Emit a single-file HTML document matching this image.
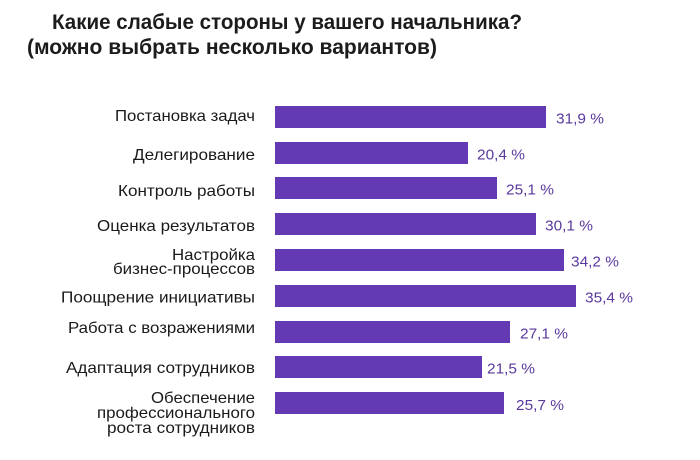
<!DOCTYPE html>
<html>
<head>
<meta charset="utf-8">
<style>
  html, body { margin: 0; padding: 0; background: #ffffff; }
  svg { display: block; }
  .t { font-family: "Liberation Sans", "Noto Sans CJK SC", sans-serif; font-weight: bold; font-size: 21px; fill: #1c1c1c; }
  .l { font-family: "Liberation Sans", "Noto Sans CJK SC", sans-serif; font-size: 16px; fill: #1a1a1a; }
  .v { font-family: "Liberation Sans", "Noto Sans CJK SC", sans-serif; font-size: 15px; fill: #5a3a9e; }
  .b { fill: #6339b4; }
</style>
</head>
<body>
<svg width="700" height="460" viewBox="0 0 700 460" xmlns="http://www.w3.org/2000/svg">
  <rect width="700" height="460" fill="#ffffff"/>
  <!-- Title -->
  <text class="t" x="52" y="29" textLength="470" lengthAdjust="spacingAndGlyphs">Какие слабые стороны у вашего начальника?</text>
  <text class="t" x="27" y="54" textLength="410" lengthAdjust="spacingAndGlyphs">(можно выбрать несколько вариантов)</text>

  <!-- Bars -->
  <rect class="b" x="275" y="106" width="271" height="22"/>
  <rect class="b" x="275" y="142" width="193" height="22"/>
  <rect class="b" x="275" y="177" width="222" height="22"/>
  <rect class="b" x="275" y="213" width="261" height="22"/>
  <rect class="b" x="275" y="249" width="289" height="22"/>
  <rect class="b" x="275" y="285" width="301" height="22"/>
  <rect class="b" x="275" y="321" width="235" height="22"/>
  <rect class="b" x="275" y="356" width="207" height="22"/>
  <rect class="b" x="275" y="392" width="229" height="22"/>

  <!-- Values -->
  <text class="v" x="556" y="123.5" textLength="48" lengthAdjust="spacingAndGlyphs">31,9 %</text>
  <text class="v" x="477" y="159.5" textLength="48" lengthAdjust="spacingAndGlyphs">20,4 %</text>
  <text class="v" x="506" y="194.5" textLength="48" lengthAdjust="spacingAndGlyphs">25,1 %</text>
  <text class="v" x="545" y="230.5" textLength="48" lengthAdjust="spacingAndGlyphs">30,1 %</text>
  <text class="v" x="571" y="266.5" textLength="48" lengthAdjust="spacingAndGlyphs">34,2 %</text>
  <text class="v" x="585" y="302.5" textLength="48" lengthAdjust="spacingAndGlyphs">35,4 %</text>
  <text class="v" x="520" y="338.3" textLength="48" lengthAdjust="spacingAndGlyphs">27,1 %</text>
  <text class="v" x="487" y="373.3" textLength="48" lengthAdjust="spacingAndGlyphs">21,5 %</text>
  <text class="v" x="516" y="410" textLength="48" lengthAdjust="spacingAndGlyphs">25,7 %</text>

  <!-- Category labels -->
  <text class="l" x="115" y="121" textLength="140" lengthAdjust="spacingAndGlyphs">Постановка задач</text>
  <text class="l" x="133" y="160" textLength="122" lengthAdjust="spacingAndGlyphs">Делегирование</text>
  <text class="l" x="118" y="196" textLength="137" lengthAdjust="spacingAndGlyphs">Контроль работы</text>
  <text class="l" x="97" y="231" textLength="158" lengthAdjust="spacingAndGlyphs">Оценка результатов</text>
  <text class="l" x="172" y="260" textLength="83" lengthAdjust="spacingAndGlyphs">Настройка</text>
  <text class="l" x="113" y="274" textLength="142" lengthAdjust="spacingAndGlyphs">бизнес-процессов</text>
  <text class="l" x="61" y="302.5" textLength="194" lengthAdjust="spacingAndGlyphs">Поощрение инициативы</text>
  <text class="l" x="68" y="333" textLength="187" lengthAdjust="spacingAndGlyphs">Работа с возражениями</text>
  <text class="l" x="66" y="373" textLength="189" lengthAdjust="spacingAndGlyphs">Адаптация сотрудников</text>
  <text class="l" x="151" y="403" textLength="104" lengthAdjust="spacingAndGlyphs">Обеспечение</text>
  <text class="l" x="97" y="418" textLength="158" lengthAdjust="spacingAndGlyphs">профессионального</text>
  <text class="l" x="107" y="433" textLength="148" lengthAdjust="spacingAndGlyphs">роста сотрудников</text>
</svg>
</body>
</html>
